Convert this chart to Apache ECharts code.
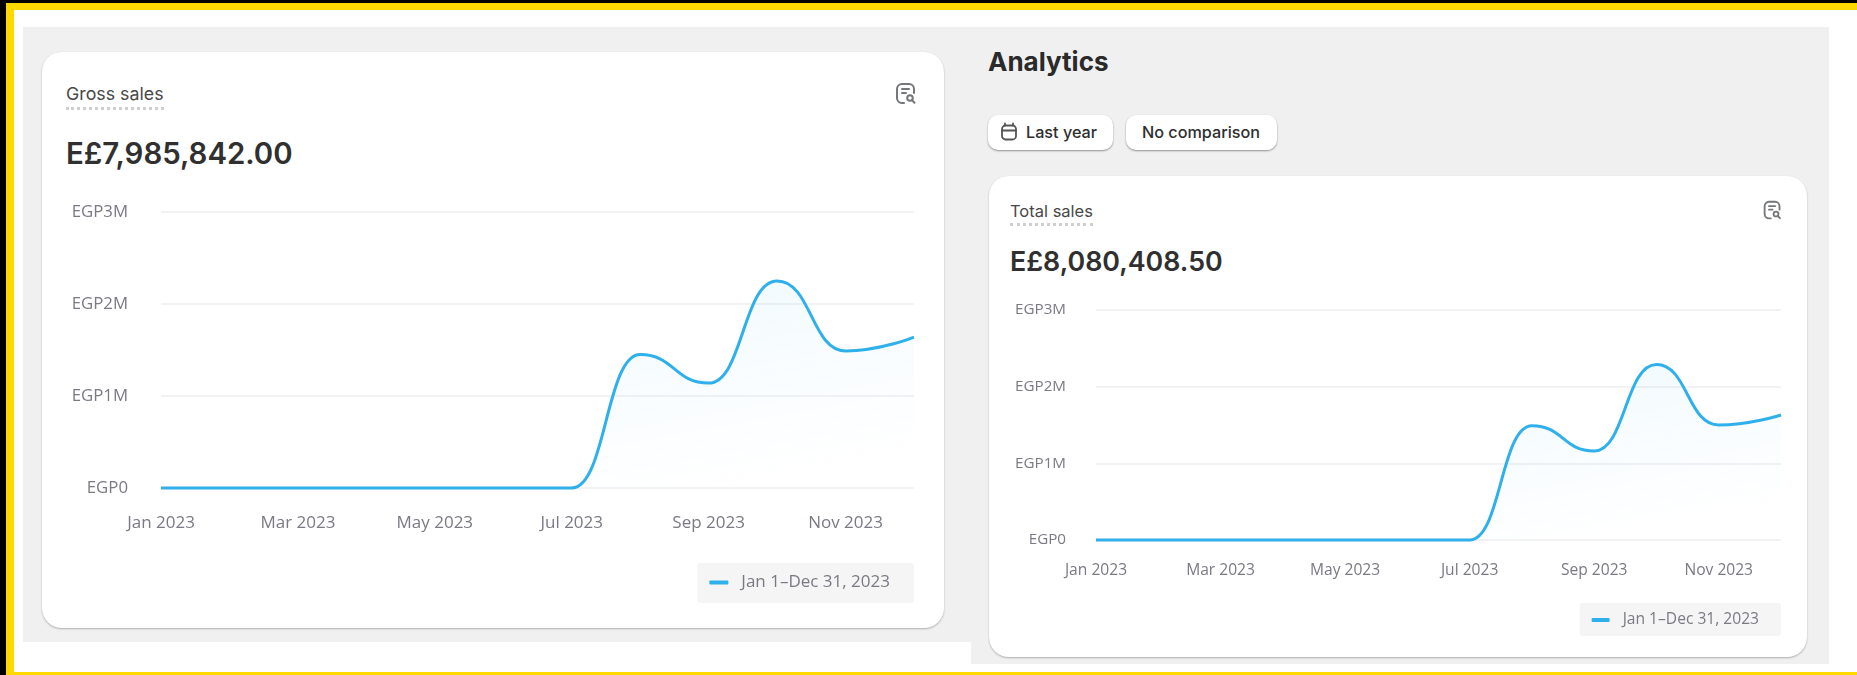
<!DOCTYPE html>
<html>
<head>
<meta charset="utf-8">
<title>Analytics</title>
<script src="https://cdn.jsdelivr.net/npm/echarts@6/dist/echarts.min.js"></script>
<style>
html, body { margin: 0; padding: 0; width: 1857px; height: 675px; overflow: hidden; background: #fff; font-family: Inter, sans-serif; }
.abs { position: absolute; }
.frame-left { left: 0; top: 0; width: 14px; height: 675px; background: linear-gradient(to right, #000 6px, #ffd800 6px); }
.frame-top { left: 6px; top: 0; width: 1851px; height: 10px; background: linear-gradient(to bottom, #000 3px, #ffd800 3px); }
.frame-bottom { left: 6px; top: 672px; width: 1851px; height: 3px; background: #ffd800; }
.bg-a { left: 23px; top: 27px; width: 948px; height: 615px; background: #f0f0f0; }
.bg-b { left: 971px; top: 27px; width: 858px; height: 637px; background: #f0f0f0; }
.card { background: #fff; border-radius: 20px; box-shadow: 0 1px 2px rgba(0,0,0,.28); }
.card-a { left: 42px; top: 52px; width: 902px; height: 576px; }
.card-b { left: 989px; top: 176px; width: 818px; height: 481px; }
.label { color: #484848; white-space: nowrap; border-bottom: 3px dotted #cfcfcf; line-height: 1; }
.big { color: #303030; font-weight: 600; white-space: nowrap; line-height: 1; }
.title { left: 988px; top: 47px; font-size: 26px; font-weight: 700; color: #2a2a2a; line-height: 30px; }
.btn { top: 115px; height: 35px; background: #fff; border-radius: 10px; box-shadow: 0 1px 2px rgba(0,0,0,.4); color: #2e2e2e; font-size: 16.2px; font-weight: 500; line-height: 35px; white-space: nowrap; box-sizing: border-box; }
</style>
</head>
<body>
<div class="abs bg-a"></div>
<div class="abs bg-b"></div>
<div class="abs frame-left"></div>
<div class="abs frame-top"></div>
<div class="abs frame-bottom"></div>

<div class="abs card card-a"></div>
<div class="abs label" style="left:66px;top:85px;font-size:17.8px;padding-bottom:4px;">Gross sales</div>
<div class="abs big" style="left:66px;top:139px;font-size:29.4px;">E£7,985,842.00</div>
<svg class="abs" style="left:894px;top:82px;" width="24" height="24" viewBox="0 0 24 24" fill="none" stroke="#74767a" stroke-width="2" stroke-linecap="round">
  <path d="M10 21H8a5 5 0 0 1-5-5V7a5 5 0 0 1 5-5h7a5 5 0 0 1 5 5v4"/><path d="M8 7h7M8 11h4"/><circle cx="16" cy="16" r="2.8"/><path d="M18.2 18.4l2.3 2.4"/>
</svg>

<div class="abs title">Analytics</div>
<div class="abs btn" style="left:988px;width:125px;padding-left:38px;">Last year</div>
<svg class="abs" style="left:999px;top:122px;" width="20" height="20" viewBox="0 0 20 20" fill="none" stroke="#555" stroke-width="1.8" stroke-linecap="round">
  <rect x="3" y="3.5" width="14" height="14" rx="3.5"/><path d="M3 8.5h14M6 1.5v2M14 1.5v2"/>
</svg>
<div class="abs btn" style="left:1126px;width:151px;padding-left:16px;">No comparison</div>

<div class="abs card card-b"></div>
<div class="abs label" style="left:1010px;top:203px;font-size:16.5px;padding-bottom:3px;">Total sales</div>
<div class="abs big" style="left:1010px;top:248px;font-size:26.8px;">E£8,080,408.50</div>
<svg class="abs" style="left:1762px;top:200px;" width="21" height="21" viewBox="0 0 24 24" fill="none" stroke="#74767a" stroke-width="2.1" stroke-linecap="round">
  <path d="M10 21H8a5 5 0 0 1-5-5V7a5 5 0 0 1 5-5h7a5 5 0 0 1 5 5v4"/><path d="M8 7h7M8 11h4"/><circle cx="16" cy="16" r="2.8"/><path d="M18.2 18.4l2.3 2.4"/>
</svg>

<div id="gross" class="abs" style="left:42px;top:190px;width:902px;height:430px;"></div>
<div id="total" class="abs" style="left:989px;top:290px;width:818px;height:360px;"></div>

<script>
const months = ['Jan 2023', 'Feb 2023', 'Mar 2023', 'Apr 2023', 'May 2023', 'Jun 2023', 'Jul 2023', 'Aug 2023', 'Sep 2023', 'Oct 2023', 'Nov 2023', 'Dec 2023']
const grossValues = [0, 0, 0, 0, 0, 0, 0, 1450000, 1140000, 2250000, 1490000, 1640000]
const totalValues = [0, 0, 0, 0, 0, 0, 0, 1490000, 1160000, 2290000, 1500000, 1630000]
const yTicks = { 0: 'EGP0', 1000000: 'EGP1M', 2000000: 'EGP2M', 3000000: 'EGP3M' }
const legendName = 'Jan 1–Dec 31, 2023'

const labelFont = '"Open Sans", sans-serif'

function buildOption(values, o) {
    return {
        animation: false,
        grid: { left: o.left, right: o.right, top: o.top, height: o.height },
        legend: {
            right: o.right,
            top: o.legendTop,
            padding: o.legendPadding,
            backgroundColor: '#f5f5f5',
            borderRadius: 3,
            icon: 'roundRect',
            itemWidth: o.legendIcon,
            itemHeight: 4,
            itemGap: 0,
            textStyle: { color: '#7a7a84', fontSize: o.fontSize, fontFamily: labelFont, padding: [0, 0, 0, 8] }
        },
        xAxis: {
            type: 'category',
            boundaryGap: false,
            data: months,
            axisLine: { show: false },
            axisTick: { show: false },
            axisLabel: { color: '#7a7a84', fontSize: o.fontSize, fontFamily: labelFont, margin: o.xMargin, interval: 1, hideOverlap: false }
        },
        yAxis: {
            type: 'value',
            min: 0,
            max: 3000000,
            interval: 1000000,
            axisLabel: {
                color: '#7a7a84',
                fontSize: o.yFontSize,
                fontFamily: labelFont,
                margin: o.yMargin,
                formatter: (v) => yTicks[v]
            },
            splitLine: { lineStyle: { color: '#eeeef0', width: 1.5 } }
        },
        series: [{
            name: legendName,
            type: 'line',
            data: values,
            smooth: 0.5,
            smoothMonotone: 'x',
            symbol: 'none',
            clip: false,
            lineStyle: { color: '#2fb0ea', width: 3 },
            itemStyle: { color: '#2fb0ea' },
            areaStyle: {
                color: {
                    type: 'linear', x: 0.7, y: 0, x2: 0.75, y2: 1,
                    colorStops: [
                        { offset: 0, color: 'rgba(47,176,234,0.09)' },
                        { offset: 0.5, color: 'rgba(47,176,234,0.045)' },
                        { offset: 1, color: 'rgba(47,176,234,0)' }
                    ]
                }
            }
        }]
    }
}

const grossChart = echarts.init(document.getElementById('gross'))
grossChart.setOption(buildOption(grossValues, {
    left: 119, right: 30, top: 22, height: 276,
    fontSize: 17, yFontSize: 16.8, xMargin: 27, yMargin: 33,
    legendTop: 373, legendPadding: [11, 24, 12, 12], legendIcon: 19
}))

const totalChart = echarts.init(document.getElementById('total'))
totalChart.setOption(buildOption(totalValues, {
    left: 107, right: 26, top: 20, height: 230,
    fontSize: 15.6, yFontSize: 15.2, xMargin: 23, yMargin: 30,
    legendTop: 313, legendPadding: [9, 22, 8, 12], legendIcon: 18
}))
</script>
</body>
</html>
